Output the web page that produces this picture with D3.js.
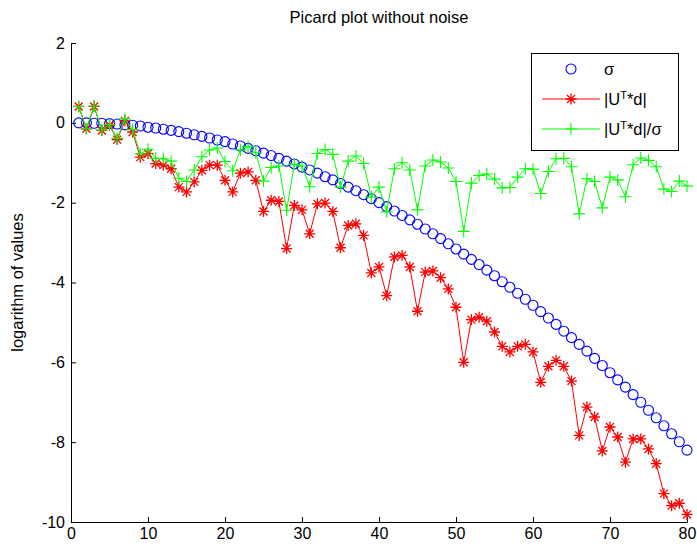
<!DOCTYPE html>
<html>
<head>
<meta charset="utf-8">
<script src="https://cdn.jsdelivr.net/npm/d3@7"></script>
<style>
  body { margin: 0; background: #fff; }
  text { font-family: "Liberation Sans", Arial, sans-serif; }
</style>
</head>
<body>
<div id="chart"></div>
<script>
// values (log10)
const idx = d3.range(1, 81);

const sigmaVals = [
  0.00, -0.00, -0.01, -0.01, -0.02, -0.03, -0.05, -0.06, -0.08, -0.11,
  -0.13, -0.16, -0.19, -0.22, -0.26, -0.30, -0.34, -0.38, -0.43, -0.47,
  -0.53, -0.58, -0.64, -0.70, -0.76, -0.82, -0.89, -0.96, -1.03, -1.11,
  -1.18, -1.26, -1.35, -1.43, -1.52, -1.61, -1.70, -1.80, -1.90, -2.00,
  -2.10, -2.21, -2.32, -2.43, -2.54, -2.66, -2.78, -2.90, -3.03, -3.16,
  -3.29, -3.42, -3.55, -3.69, -3.83, -3.98, -4.12, -4.27, -4.42, -4.57,
  -4.73, -4.89, -5.05, -5.22, -5.38, -5.55, -5.72, -5.90, -6.08, -6.26,
  -6.44, -6.62, -6.81, -7.00, -7.20, -7.39, -7.59, -7.79, -7.99, -8.20
];

const utdVals = [
  0.41, -0.15, 0.41, -0.19, -0.06, -0.42, 0.05, -0.23, -0.86, -0.77,
  -1.02, -1.06, -1.15, -1.61, -1.73, -1.48, -1.19, -1.06, -1.06, -1.44,
  -1.73, -1.26, -1.23, -1.44, -2.22, -1.94, -1.97, -3.15, -2.07, -2.18,
  -2.78, -2.03, -2.01, -2.22, -3.13, -2.57, -2.53, -2.82, -3.76, -3.61,
  -4.33, -3.36, -3.32, -3.61, -4.72, -3.74, -3.71, -3.88, -4.16, -4.62,
  -6.00, -4.93, -4.87, -4.97, -5.24, -5.60, -5.74, -5.60, -5.55, -5.74,
  -6.50, -6.10, -5.95, -6.10, -6.47, -7.83, -7.12, -7.37, -8.22, -7.62,
  -7.87, -8.50, -7.92, -7.92, -8.17, -8.54, -9.29, -9.59, -9.53, -9.81
];

const ratioVals = [
  0.41, -0.15, 0.42, -0.18, -0.04, -0.39, 0.10, -0.17, -0.78, -0.66,
  -0.89, -0.90, -0.96, -1.39, -1.47, -1.18, -0.85, -0.68, -0.63, -0.97,
  -1.20, -0.68, -0.59, -0.75, -1.46, -1.12, -1.08, -2.19, -1.04, -1.08,
  -1.60, -0.77, -0.67, -0.79, -1.61, -0.96, -0.83, -1.02, -1.86, -1.61,
  -2.23, -1.15, -1.00, -1.18, -2.18, -1.08, -0.93, -0.98, -1.13, -1.47,
  -2.72, -1.51, -1.32, -1.28, -1.41, -1.63, -1.62, -1.36, -1.15, -1.16,
  -1.77, -1.22, -0.90, -0.89, -1.10, -2.28, -1.40, -1.47, -2.13, -1.36,
  -1.43, -1.85, -1.05, -0.88, -0.94, -1.10, -1.66, -1.72, -1.46, -1.58
];

const xTicks = [0, 10, 20, 30, 40, 50, 60, 70, 80];
const yTicks = [-10, -8, -6, -4, -2, 0, 2];

const margin = {top: 43, right: 10, bottom: 29, left: 71},
      width = 697 - margin.left - margin.right,
      height = 551 - margin.top - margin.bottom;

const svgRoot = d3.select("#chart")
    .append("svg")
    .attr("width", 697)
    .attr("height", 551);

const svg = svgRoot.append("g")
    .attr("transform", `translate(${margin.left}, ${margin.top})`);

const x = d3.scaleLinear().domain([0, 80]).range([0, width]);
const y = d3.scaleLinear().domain([-10, 2]).range([height, 0]);

// axes, ticks inward like matlab, plain hyphen for minus
const xAxis = svg.append("g")
    .attr("transform", `translate(0, ${height})`)
    .call(d3.axisBottom(x).tickValues(xTicks).tickFormat(d => String(d))
        .tickSizeInner(-5).tickSizeOuter(0).tickPadding(6));
const yAxis = svg.append("g")
    .call(d3.axisLeft(y).tickValues(yTicks).tickFormat(d => String(d))
        .tickSizeInner(-5).tickSizeOuter(0).tickPadding(6));

[xAxis, yAxis].forEach(a => {
    a.selectAll("text").style("font-size", "16px").style("fill", "#000")
        .style("font-family", "'Liberation Sans', Arial, sans-serif");
    a.selectAll("line").style("stroke", "#000");
    a.select(".domain").style("stroke", "#000");
});

const pts = vals => idx.map((d, i) => ({x: d, y: vals[i]}));

const line = d3.line().x(d => x(d.x)).y(d => y(d.y));

const asterisk = "M-5.5,0H5.5M0,-5.5V5.5M-4,-4L4,4M-4,4L4,-4";
const plus = "M-6,0H6M0,-6V6";

// sigma: circles only
svg.selectAll(".sig")
    .data(pts(sigmaVals))
    .join("circle")
    .attr("class", "sig")
    .attr("cx", d => x(d.x))
    .attr("cy", d => y(d.y))
    .attr("r", 5)
    .style("fill", "none")
    .style("stroke", "#0000ff")
    .style("stroke-width", 1.1);

// |U^T d|
svg.append("path")
    .datum(pts(utdVals))
    .attr("d", line)
    .style("fill", "none")
    .style("stroke", "#ff0000")
    .style("stroke-width", 1);
svg.selectAll(".utd")
    .data(pts(utdVals))
    .join("path")
    .attr("class", "utd")
    .attr("transform", d => `translate(${x(d.x)}, ${y(d.y)})`)
    .attr("d", asterisk)
    .style("fill", "none")
    .style("stroke", "#ff0000")
    .style("stroke-width", 1.3);

// |U^T d| / sigma
svg.append("path")
    .datum(pts(ratioVals))
    .attr("d", line)
    .style("fill", "none")
    .style("stroke", "#00ff00")
    .style("stroke-width", 1);
svg.selectAll(".rat")
    .data(pts(ratioVals))
    .join("path")
    .attr("class", "rat")
    .attr("transform", d => `translate(${x(d.x)}, ${y(d.y)})`)
    .attr("d", plus)
    .style("fill", "none")
    .style("stroke", "#00ff00")
    .style("stroke-width", 1.1);

// title
svgRoot.append("text")
    .attr("x", margin.left + width / 2)
    .attr("y", 23)
    .attr("text-anchor", "middle")
    .style("font-size", "16.5px")
    .text("Picard plot without noise");

// y label
svgRoot.append("text")
    .attr("transform", `translate(23, ${margin.top + height / 2}) rotate(-90)`)
    .attr("text-anchor", "middle")
    .style("font-size", "16.5px")
    .text("logarithm of values");

// legend
const lg = svgRoot.append("g").attr("transform", "translate(531, 53)");
lg.append("rect")
    .attr("x", 0.5).attr("y", 0.5)
    .attr("width", 147).attr("height", 97)
    .style("fill", "#fff")
    .style("stroke", "#000");

const rows = [
  {label: "sigma", col: "#0000ff", y: 16},
  {label: "utd", col: "#ff0000", y: 46},
  {label: "ratio", col: "#00ff00", y: 76}
];

rows.forEach(r => {
    if (r.label === "sigma") {
        lg.append("circle").attr("cx", 40).attr("cy", r.y).attr("r", 5)
            .style("fill", "none").style("stroke", r.col).style("stroke-width", 1.1);
    } else {
        lg.append("line").attr("x1", 11).attr("x2", 69).attr("y1", r.y).attr("y2", r.y)
            .style("stroke", r.col);
        lg.append("path").attr("transform", `translate(40, ${r.y})`)
            .attr("d", r.label === "utd" ? asterisk : plus)
            .style("fill", "none").style("stroke", r.col)
            .style("stroke-width", r.label === "utd" ? 1.3 : 1.1);
    }
    const t = lg.append("text")
        .attr("x", 73)
        .attr("y", r.y + 6)
        .style("font-size", "16.5px");
    if (r.label === "sigma") {
        t.text("σ");
    } else {
        t.append("tspan").text("|U");
        t.append("tspan").attr("dy", -6).style("font-size", "11px").text("T");
        t.append("tspan").attr("dy", 6).text("*d|" + (r.label === "ratio" ? "/σ" : ""));
    }
});
</script>
</body>
</html>
